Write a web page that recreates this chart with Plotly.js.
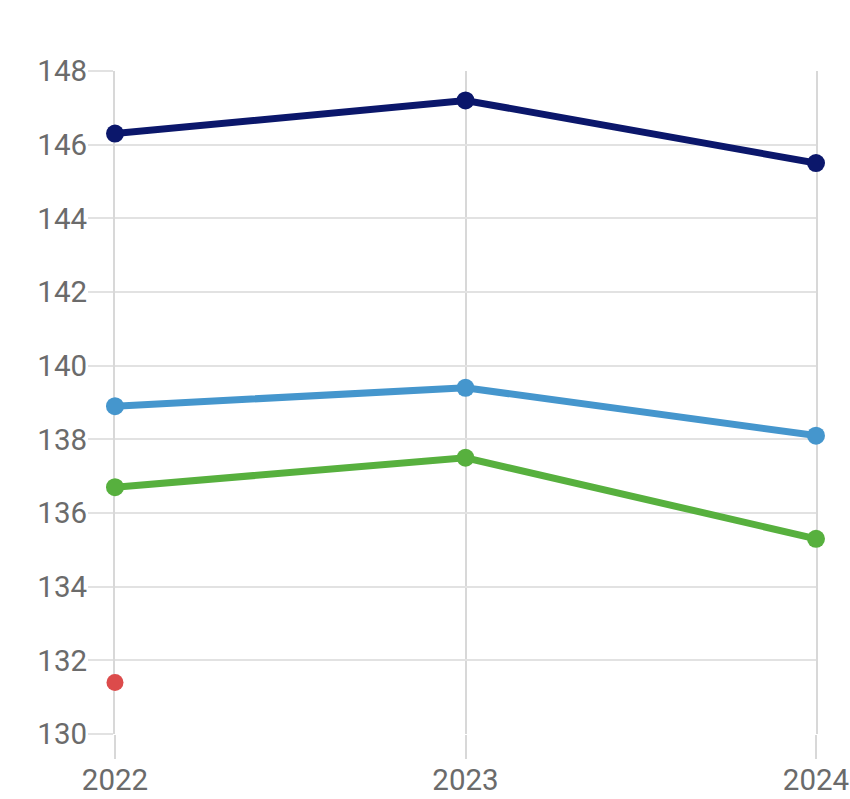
<!DOCTYPE html>
<html><head><meta charset="utf-8">
<script src="https://cdn.plot.ly/plotly-3.0.1.min.js"></script>
<style>html,body{margin:0;padding:0;background:#fff}#chart{width:850px;height:799px}</style>
</head><body><div id="chart"></div>
<script>
const years = [2022, 2023, 2024];
const navySeries = [146.3, 147.2, 145.5];
const blueSeries = [138.9, 139.4, 138.1];
const greenSeries = [136.7, 137.5, 135.3];
const redYears = [2022];
const redSeries = [131.4];
const yTicks = [130, 132, 134, 136, 138, 140, 142, 144, 146, 148];

function lineTrace(y, color) {
  return {x: years, y: y, type: 'scatter', mode: 'lines+markers',
    line: {color: color, width: 7}, marker: {color: color, size: 18},
    cliponaxis: false, hoverinfo: 'skip'};
}
const traces = [
  lineTrace(greenSeries, '#57b03e'),
  lineTrace(blueSeries, '#4596cd'),
  lineTrace(navySeries, '#0b176b'),
  {x: redYears, y: redSeries, type: 'scatter', mode: 'markers',
   marker: {color: '#dc4b4b', size: 17}, cliponaxis: false, hoverinfo: 'skip'}
];
const gridCol = '#e2e2e2';
const vCol = '#d8d8d8';
const layout = {
  width: 850, height: 799,
  margin: {l: 115, r: 34, t: 71, b: 65},
  paper_bgcolor: '#fff', plot_bgcolor: '#fff',
  showlegend: false,
  font: {family: 'Roboto, sans-serif', size: 29.5, color: '#6b6b6b'},
  xaxis: {range: [2022, 2024], tickvals: years, ticktext: years.map(String),
    showgrid: true, gridcolor: vCol, gridwidth: 2, zeroline: false, showline: false,
    ticks: 'outside', ticklen: 24, tickwidth: 2, tickcolor: vCol,
    ticklabelstandoff: -4, layer: 'below traces',
    tickfont: {size: 29.5, color: '#6b6b6b'}, fixedrange: true},
  yaxis: {range: [130, 148], tickvals: yTicks,
    showgrid: true, gridcolor: gridCol, gridwidth: 2, zeroline: false,
    showline: true, mirror: true, linecolor: vCol, linewidth: 2,
    ticks: 'outside', ticklen: 25, tickwidth: 2, tickcolor: gridCol,
    ticklabelstandoff: -5, layer: 'below traces',
    tickfont: {size: 29.5, color: '#6b6b6b'}, fixedrange: true}
};
Plotly.newPlot('chart', traces, layout, {displayModeBar: false, staticPlot: true});
</script></body></html>
